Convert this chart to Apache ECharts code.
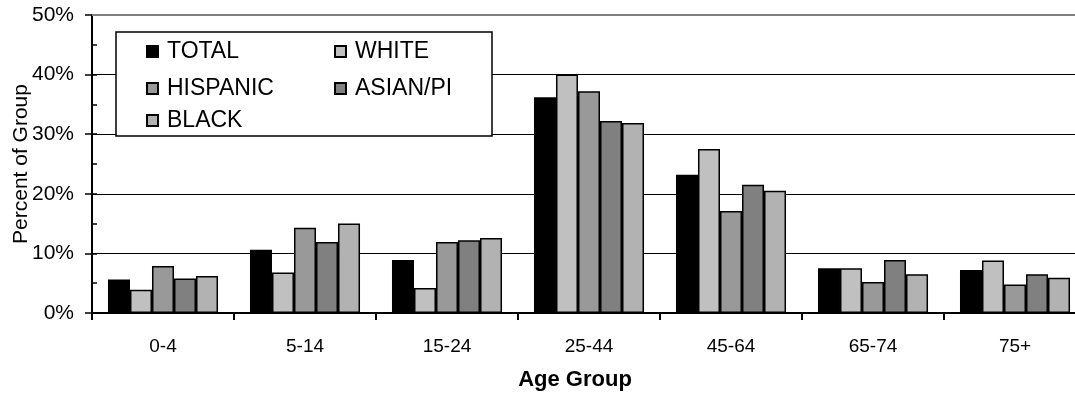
<!DOCTYPE html>
<html>
<head>
<meta charset="utf-8">
<script src="https://cdn.jsdelivr.net/npm/echarts@6/dist/echarts.min.js"></script>
<style>
  html, body { margin: 0; padding: 0; background: #fff; }
  #chart { width: 1075px; height: 394px; }
</style>
</head>
<body>
<div id="chart"></div>
<script>
// Share of each population group by age bracket (percent)
const ageGroups = ['0-4', '5-14', '15-24', '25-44', '45-64', '65-74', '75+'];
const groupNames = ['TOTAL', 'WHITE', 'HISPANIC', 'ASIAN/PI', 'BLACK'];
const total    = [5.6, 10.6, 8.9, 36.2, 23.2, 7.5, 7.2];
const white    = [3.9, 6.8, 4.2, 40.0, 27.5, 7.5, 8.8];
const hispanic = [7.9, 14.3, 11.9, 37.2, 17.1, 5.2, 4.8];
const asianPi  = [5.8, 11.9, 12.2, 32.2, 21.5, 8.9, 6.5];
const black    = [6.2, 15.0, 12.6, 31.9, 20.5, 6.5, 5.9];
const yTicks = [0, 10, 20, 30, 40, 50];

const seriesValues = [total, white, hispanic, asianPi, black];
const fills = ['#000000', '#c0c0c0', '#999999', '#808080', '#b2b2b2'];
const FONT = "'Liberation Sans', Arial, sans-serif";

const chart = echarts.init(document.getElementById('chart'), null, { renderer: 'canvas' });

const series = groupNames.map((name, i) => {
  const s = {
    name: name,
    type: 'bar',
    data: seriesValues[i],
    barGap: '0%',
    barCategoryGap: '22.5%',
    itemStyle: { color: fills[i], borderColor: '#000', borderWidth: 1.5 },
    emphasis: { disabled: true },
    animation: false
  };
  if (i === 0) {
    // grey frame line along the top of the plot
    s.markLine = {
      silent: true,
      symbol: 'none',
      label: { show: false },
      lineStyle: { color: '#808080', width: 2, type: 'solid' },
      data: [{ yAxis: yTicks[yTicks.length - 1] }],
      animation: false
    };
  }
  return s;
});

// one legend per entry, laid out in two columns inside a framed box
const legendSpots = [
  { left: 146, top: 40 },
  { left: 334, top: 40 },
  { left: 146, top: 77 },
  { left: 334, top: 77 },
  { left: 146, top: 109 }
];
const legends = groupNames.map((name, i) => ({
  data: [name],
  left: legendSpots[i].left,
  top: legendSpots[i].top,
  padding: 0,
  icon: 'rect',
  itemWidth: 11,
  itemHeight: 11,
  selectedMode: false,
  z: 20,
  textStyle: { fontFamily: FONT, fontSize: 23, color: '#000', padding: [5, 0, 0, 4] }
}));

const option = {
  animation: false,
  grid: { left: 92, top: 15, width: 994, bottom: 81, containLabel: false, outerBoundsMode: 'none' },
  legend: legends,
  xAxis: {
    type: 'category',
    data: ageGroups,
    axisLine: { show: true, lineStyle: { color: '#000', width: 2 } },
    axisTick: { show: true, alignWithLabel: false, length: 7, lineStyle: { color: '#000', width: 2 } },
    axisLabel: { fontFamily: FONT, fontSize: 19, color: '#000', margin: 24 },
    splitLine: { show: false }
  },
  yAxis: [
    {
      type: 'value',
      min: 0, max: 50, interval: 10,
      name: 'Percent of Group',
      nameLocation: 'middle',
      nameGap: 60,
      nameMoveOverlap: false,
      nameTextStyle: { fontFamily: FONT, fontSize: 21, color: '#000' },
      axisLine: { show: true, lineStyle: { color: '#000', width: 2 } },
      axisTick: { show: true, inside: false, length: 7, lineStyle: { color: '#000', width: 1.5 } },
      axisLabel: { fontFamily: FONT, fontSize: 21, color: '#000', margin: 18, formatter: '{value}%' },
      splitLine: { show: true, lineStyle: { color: ['#000', '#000', '#000', '#000', '#000', '#808080'], width: 1 } }
    },
    {
      type: 'value',
      min: 0, max: 50, interval: 5,
      position: 'left',
      axisLine: { show: false },
      axisTick: { show: true, inside: true, length: 5, lineStyle: { color: '#000', width: 1.5 } },
      axisLabel: { show: false },
      splitLine: { show: false }
    }
  ],
  graphic: [
    {
      type: 'rect',
      z: 10,
      shape: { x: 116, y: 32, width: 376, height: 104 },
      style: { fill: '#fff', stroke: '#000', lineWidth: 1.5 }
    },
    {
      type: 'text',
      x: 575,
      y: 369,
      style: { text: 'Age Group', fontFamily: FONT, fontSize: 22, fontWeight: 'bold', fill: '#000', textAlign: 'center' }
    }
  ],
  series: series
};

chart.setOption(option);
</script>
</body>
</html>
